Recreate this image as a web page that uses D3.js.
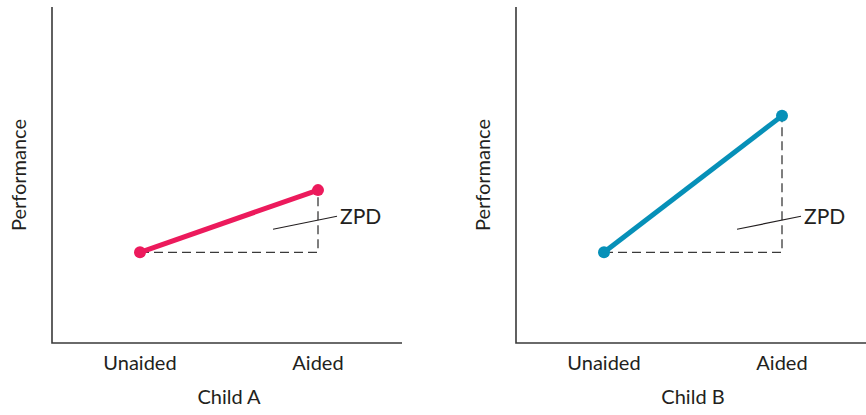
<!DOCTYPE html>
<html>
<head>
<meta charset="utf-8">
<script src="https://cdn.jsdelivr.net/npm/d3@7"></script>
<style>
  body { margin: 0; background: #fff; }
  svg text { font-family: "Lato", "Open Sans", sans-serif; fill: #231f20; }
</style>
</head>
<body>
<svg width="866" height="415"></svg>
<script>
// categories on the x axis
var conditions = ["Unaided", "Aided"];
// performance values (arbitrary 0-100 scale)
var childA = [27, 45.5];
var childB = [27, 67.6];
var panelTitles = ["Child A", "Child B"];
var panelColors = ["#ec1a5c", "#0690b8"];

var svg = d3.select("svg");

var panels = [
  {title: panelTitles[0], values: childA, color: panelColors[0], left: 52},
  {title: panelTitles[1], values: childB, color: panelColors[1], left: 516}
];

var axisW = 350, axisTop = 7, axisBottom = 343;

var y = d3.scaleLinear().domain([0, 100]).range([axisBottom, axisTop]);
var x = d3.scalePoint().domain(conditions).range([88, 266]);

panels.forEach(function(p) {
  var g = svg.append("g").attr("transform", "translate(" + p.left + ",0)");

  // axes
  g.append("path")
    .attr("d", "M0," + axisTop + "V" + axisBottom + "H" + axisW)
    .attr("fill", "none")
    .attr("stroke", "#3a3a3a")
    .attr("stroke-width", 1.6);

  g.selectAll(".tick")
    .data(conditions)
    .enter().append("text")
    .attr("x", function(d) { return x(d); })
    .attr("y", 370)
    .attr("text-anchor", "middle")
    .style("font-size", "20px")
    .text(function(d) { return d; });

  g.append("text")
    .attr("x", 177)
    .attr("y", 404)
    .attr("text-anchor", "middle")
    .style("font-size", "20px")
    .text(p.title);

  g.append("text")
    .attr("transform", "translate(-26," + 175 + ") rotate(-90)")
    .attr("text-anchor", "middle")
    .style("font-size", "20px")
    .text("Performance");

  var x0 = x(conditions[0]), x1 = x(conditions[1]);
  var y0 = y(p.values[0]), y1 = y(p.values[1]);

  // dashed ZPD guides
  g.append("path")
    .attr("d", "M" + x0 + "," + y0 + "H" + x1 + "V" + y1)
    .attr("fill", "none")
    .attr("stroke", "#3a3a3a")
    .attr("stroke-width", 1.3)
    .attr("stroke-dasharray", "9,5");

  // line
  g.append("line")
    .attr("x1", x0).attr("y1", y0)
    .attr("x2", x1).attr("y2", y1)
    .attr("stroke", p.color)
    .attr("stroke-width", 5);

  g.selectAll(".dot")
    .data(p.values)
    .enter().append("circle")
    .attr("cx", function(d, i) { return x(conditions[i]); })
    .attr("cy", function(d) { return y(d); })
    .attr("r", 6)
    .attr("fill", p.color);

  // ZPD label with leader line
  var ym = y(p.values[0]) - 23;
  g.append("line")
    .attr("x1", x1 - 45).attr("y1", ym)
    .attr("x2", x1 + 19).attr("y2", ym - 13)
    .attr("stroke", "#231f20")
    .attr("stroke-width", 1.2);

  g.append("text")
    .attr("x", x1 + 22)
    .attr("y", ym - 5)
    .style("font-size", "21px")
    .text("ZPD");
});
</script>
</body>
</html>
